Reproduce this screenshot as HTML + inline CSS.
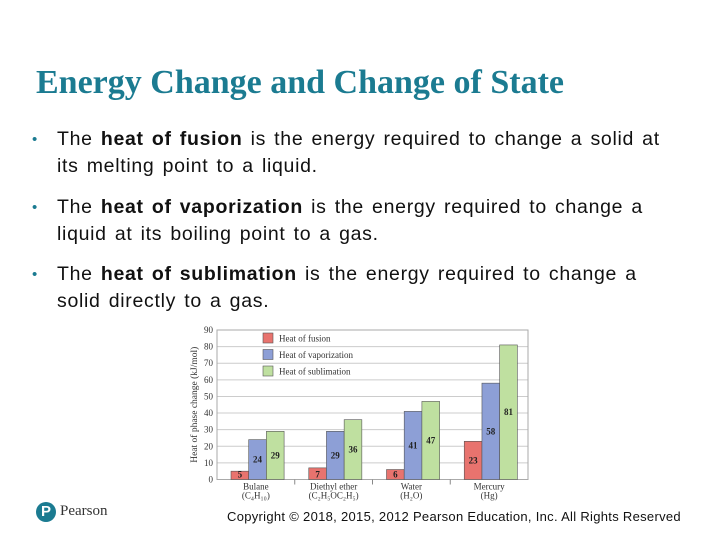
<!DOCTYPE html>
<html><head><meta charset="utf-8"><style>
body{margin:0;width:720px;height:540px;background:#fff;position:relative;overflow:hidden;font-family:"Liberation Sans",sans-serif}
h1{position:absolute;left:36px;top:64px;margin:0;font:bold 34px "Liberation Serif",serif;color:#1b7b91;white-space:nowrap;letter-spacing:0px}
.b{position:absolute;left:57px;font-size:19.5px;line-height:27px;color:#111;width:612px;letter-spacing:0.7px;word-spacing:2px}
.b:before{content:"•";position:absolute;left:-25px;color:#1b7b91;font-size:15px}
.copy{position:absolute;left:227px;top:509px;font-size:13px;color:#111;letter-spacing:0.3px;white-space:nowrap}
</style></head><body>
<h1>Energy Change and Change of State</h1>
<div class="b" style="top:126px">The <b>heat of fusion</b> is the energy required to change a solid at its melting point to a liquid.</div>
<div class="b" style="top:194px">The <b>heat of vaporization</b> is the energy required to change a liquid at its boiling point to a gas.</div>
<div class="b" style="top:261px">The <b>heat of sublimation</b> is the energy required to change a solid directly to a gas.</div>
<svg id="chart" style="position:absolute;left:0;top:0" width="720" height="540" font-family="Liberation Serif, serif"></svg>
<div style="position:absolute;left:36px;top:502px;width:20px;height:20px;border-radius:50%;background:#1b7b91;color:#fff;font:bold 15px 'Liberation Sans';text-align:center;line-height:20px">P</div>
<div style="position:absolute;left:60px;top:503px;font:15px 'Liberation Serif',serif;color:#333">Pearson</div>
<div class="copy">Copyright © 2018, 2015, 2012 Pearson Education, Inc. All Rights Reserved</div>
<script>
const categories=["Bulane","Diethyl ether","Water","Mercury"];
const formulas=["(C\u2084H\u2081\u2080)","(C\u2082H\u2085OC\u2082H\u2085)","(H\u2082O)","(Hg)"];
const fusion=[5,7,6,23];
const vaporization=[24,29,41,58];
const sublimation=[29,36,47,81];
const yTicks=[0,10,20,30,40,50,60,70,80,90];
const seriesNames=["Heat of fusion","Heat of vaporization","Heat of sublimation"];
const colors=["#e8736e","#8d9fd6","#bfe0a0"];
const svg=document.getElementById('chart');const NS="http://www.w3.org/2000/svg";
const L=217,R=528,T=330,B=479.5;
const y=v=>B-(v/90)*(B-T);
const cw=(R-L)/categories.length;
function mk(t,a,txt){const e=document.createElementNS(NS,t);for(const k in a)e.setAttribute(k,a[k]);if(txt!=null)e.textContent=txt;svg.appendChild(e);return e;}
yTicks.forEach(v=>{
 const g=mk('line',{x1:L,x2:R,y1:y(v),y2:y(v),stroke:'#ccc','stroke-width':1});
 
 const t=mk('text',{x:L-4,y:y(v)+3,'text-anchor':'end','font-size':9,fill:'#333'},v);
 
});
const fr=mk('rect',{x:L,y:T,width:R-L,height:B-T,fill:'none',stroke:'#aaa'});

const yt=mk('text',{transform:`translate(197,${(T+B)/2}) rotate(-90)`,'text-anchor':'middle','font-size':9.5,fill:'#333'},'Heat of phase change (kJ/mol)');

const series=[fusion,vaporization,sublimation];
categories.forEach((c,i)=>{
 const x0=L+i*cw;
 if(i>0){const tk=mk('line',{x1:x0,x2:x0,y1:B,y2:B+5,stroke:'#888'});}
 series.forEach((s,j)=>{
  const bx=x0+14+j*17.7,bw=17.7;
  const r=mk('rect',{x:bx,y:y(s[i]),width:bw,height:B-y(s[i]),fill:colors[j],stroke:'#555','stroke-width':0.6});
  
  const ly=s[i]<10?B-2:y(s[i]/2)+3;
  const lt=mk('text',{x:bx+bw/2,y:ly,'text-anchor':'middle','font-size':9,'font-weight':'bold',fill:'#222'},s[i]);
  
 });
 const ct=mk('text',{x:x0+cw/2,y:B+10,'text-anchor':'middle','font-size':9,fill:'#333'},c);
 
 const ft=mk('text',{x:x0+cw/2,y:B+19,'text-anchor':'middle','font-size':9,fill:'#333'},formulas[i]);
 
});
seriesNames.forEach((n,j)=>{
 const yy=333+j*16.5;
 const r=mk('rect',{x:263,y:yy,width:10,height:10,fill:colors[j],stroke:'#555','stroke-width':0.6});
 
 const t=mk('text',{x:279,y:yy+8.5,'font-size':9,fill:'#333'},n);
 
});
</script>
</body></html>
